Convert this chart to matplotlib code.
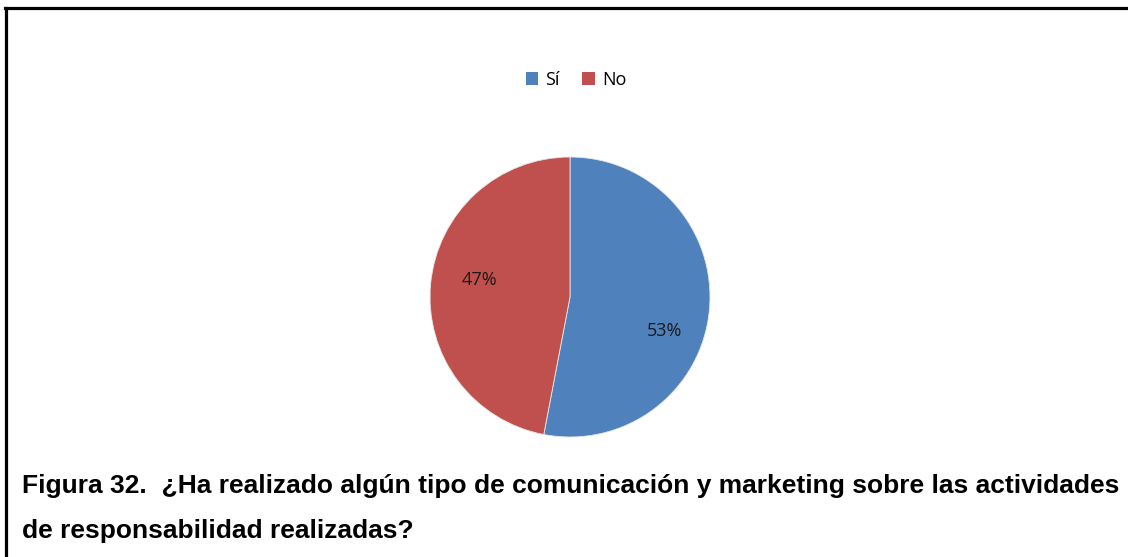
import matplotlib.pyplot as plt
from matplotlib import font_manager
from matplotlib.lines import Line2D
from matplotlib.patches import Patch

# survey answers
labels = ["Sí", "No"]
shares = [53, 47]
colors = ["#4F81BD", "#C0504D"]
caption_1 = "Figura 32.  ¿Ha realizado algún tipo de comunicación y marketing sobre las actividades"
caption_2 = "de responsabilidad realizadas?"

# regular-width Liberation Sans Bold (avoid the Narrow variant)
bold_file = None
for f in font_manager.findSystemFonts():
    if f.endswith("LiberationSans-Bold.ttf"):
        bold_file = f
cap_font = (font_manager.FontProperties(fname=bold_file, size=17.5) if bold_file
            else font_manager.FontProperties(family="DejaVu Sans", weight="bold", size=15))

W, H = 1128, 557
fig = plt.figure(figsize=(W / 100, H / 100), dpi=100)

# frame around the chart: top and left edges only
fig.add_artist(Line2D([5 / W, 1], [1 - 8 / H, 1 - 8 / H], color="black", lw=2.3))
fig.add_artist(Line2D([6 / W, 6 / W], [0, 1 - 8 / H], color="black", lw=2.3))

# pie, centred around (570, 297) px with radius 140 px
ax = fig.add_axes([430 / W, (H - 297 - 140) / H, 280 / W, 280 / H])
wedges, texts, autotexts = ax.pie(
    shares, colors=colors, startangle=90, counterclock=False,
    autopct=lambda p: f"{round(p)}%", pctdistance=0.68,
    wedgeprops=dict(edgecolor="#e8e8e8", linewidth=0.6),
    textprops=dict(fontsize=13, family="Open Sans", color="#1a1a1a"),
)
# nudge labels the way the spreadsheet places them
for t, (dx, dy) in zip(autotexts, [(0.0, -0.18), (0.03, 0.06)]):
    x, y = t.get_position()
    t.set_position((x + dx, y + dy))
ax.set_xlim(-1, 1)
ax.set_ylim(-1, 1)
ax.set_aspect("equal")

handles = [Patch(facecolor=c, edgecolor="none") for c in colors]
fig.legend(handles, labels, loc="center", bbox_to_anchor=(576 / W, 1 - 80 / H),
           ncol=2, frameon=False, handlelength=0.68, handleheight=0.68,
           handletextpad=0.4, columnspacing=1.25,
           prop=dict(family="Open Sans", size=13))

# caption: size the first line so it runs from x=22 to x=1120
left, right = 22, 1120
renderer = fig.canvas.get_renderer()
probe = fig.text(0, 0, caption_1, fontproperties=cap_font)
natural = probe.get_window_extent(renderer).width
probe.remove()
cap_font.set_size(cap_font.get_size() * (right - left) / natural)

fig.text(left / W, 1 - 493 / H, caption_1, fontproperties=cap_font, va="baseline", ha="left")
fig.text(left / W, 1 - 538 / H, caption_2, fontproperties=cap_font, va="baseline", ha="left")

fig.savefig("out.png", dpi=100)
